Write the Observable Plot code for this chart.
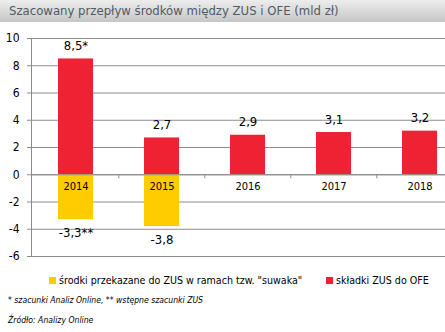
<!DOCTYPE html>
<html><head><meta charset="utf-8">
<script src="https://cdn.jsdelivr.net/npm/d3@7"></script>
<script src="https://cdn.jsdelivr.net/npm/@observablehq/plot@0.6"></script>
<style>
body{margin:0;background:#fff;width:445px;height:332px;overflow:hidden;font-family:"DejaVu Sans Condensed","DejaVu Sans",sans-serif;}
#title{height:22px;background:linear-gradient(#ededed,#c6c6c6);color:#4f5b66;font-size:13px;line-height:22px;padding-left:9px;white-space:nowrap;}
#chart{height:244px;}
#legend{position:relative;height:28px;font-size:10.6px;color:#000;}
.li{position:absolute;top:8px;white-space:nowrap;}
.sw{display:inline-block;width:7px;height:7px;margin-right:3px;vertical-align:0px;}
.note{font-style:italic;font-size:8.6px;padding-left:8px;color:#000;}
</style></head>
<body>
<div id="title">Szacowany przepływ środków między ZUS i OFE (mld zł)</div>
<div id="chart"></div>
<div id="legend"></div>
<div class="note" style="margin-top:1px">* szacunki Analiz Online, ** wstępne szacunki ZUS</div>
<div class="note" style="margin-top:10px">Źródło: Analizy Online</div>
<script>
const years = ["2014","2015","2016","2017","2018"];
const skladki = [8.5, 2.7, 2.9, 3.1, 3.2];
const skladkiLabels = ["8,5*","2,7","2,9","3,1","3,2"];
const suwak = [-3.3, -3.8, null, null, null];
const suwakLabels = ["-3,3**","-3,8","","",""];
const yTicks = [-6,-4,-2,0,2,4,6,8,10];
const seriesNames = ["środki przekazane do ZUS w ramach tzw. \"suwaka\"", "składki ZUS do OFE"];
const colors = ["#ffcc00", "#ee2233"];

const red = years.map((y,i)=>({year:y, value:skladki[i], label:skladkiLabels[i]}));
const yel = years.map((y,i)=>({year:y, value:suwak[i], label:suwakLabels[i]})).filter(d=>d.value!=null);
const font = "DejaVu Sans Condensed, DejaVu Sans, sans-serif";

const chart = Plot.plot({
  width:445, height:244,
  marginLeft:31, marginRight:0, marginTop:16, marginBottom:10,
  style:{fontFamily:font, background:"transparent"},
  x:{domain:years, range:[31,463.5], paddingInner:0.595, paddingOuter:0.3, axis:null},
  y:{domain:[-6,10], ticks:yTicks, axis:null},
  marks:[
    Plot.gridY(yTicks, {stroke:"#8c8c8c", strokeOpacity:1}),
    Plot.axisY(yTicks, {tickSize:4, tickPadding:8, stroke:"#8c8c8c", fill:"#000", fontSize:12, tickFormat:d=>d, label:null}),
    Plot.frame({anchor:"left", stroke:"#8c8c8c"}),
    Plot.barY(red, {x:"year", y:"value", fill:colors[1]}),
    Plot.barY(yel, {x:"year", y:"value", fill:colors[0]}),
    Plot.ruleX(years.slice(1), {x:d=>d, y1:0, y2:-0.3, dx:-43.2, stroke:"#8c8c8c"}),
    Plot.ruleY([0], {stroke:"#8c8c8c"}),
    Plot.text(years, {x:d=>d, y:0, dy:12, text:d=>d, fontSize:11, fill:"#000"}),
    Plot.text(red, {x:"year", y:"value", text:"label", dy:-13, fontSize:13, fill:"#000"}),
    Plot.text(yel, {x:"year", y:"value", text:"label", dy:13, fontSize:13, fill:"#000"})
  ]
});
document.getElementById("chart").appendChild(chart);

const lg = document.getElementById("legend");
const pos = [49, 326];
seriesNames.forEach((n,i)=>{
  const d = document.createElement("div");
  d.className="li"; d.style.left=pos[i]+"px";
  d.innerHTML = `<span class="sw" style="background:${colors[i]}"></span>`;
  d.appendChild(document.createTextNode(n));
  lg.appendChild(d);
});
</script>
</body></html>
